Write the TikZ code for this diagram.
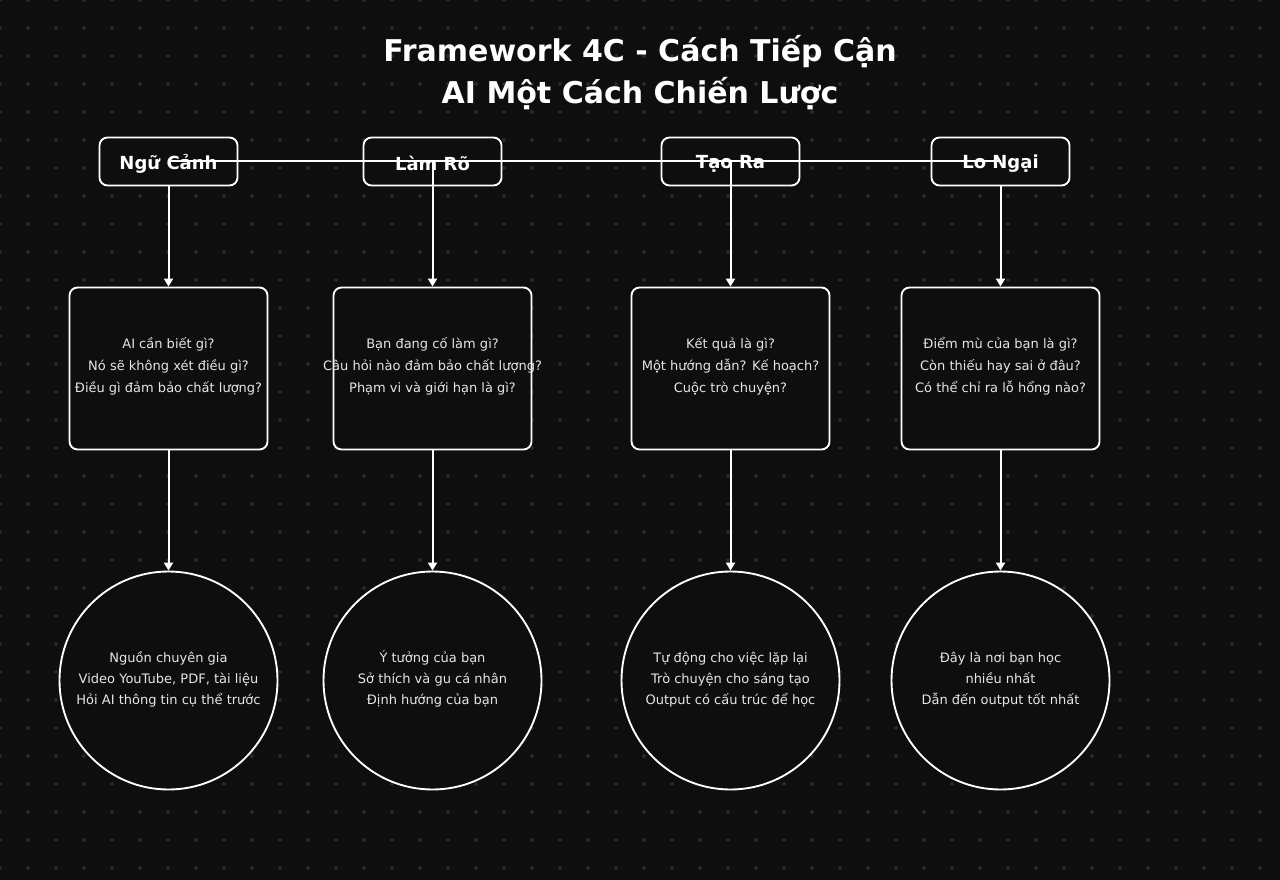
\documentclass[tikz,border=0pt]{standalone}
\usepackage{fontspec}
\setmainfont{DejaVu Sans}
\usetikzlibrary{arrows.meta}
\definecolor{bgc}{HTML}{0E0E0E}
\definecolor{gridc}{HTML}{282828}
\definecolor{txtc}{HTML}{E6E6E6}
\tikzset{
  topbox/.style={draw=white, line width=1.4pt, fill=bgc, rounded corners=6pt,
    minimum width=103.5pt, minimum height=36pt, inner sep=0pt},
  toptext/.style={text=white, inner sep=0pt, font=\fontsize{13.5}{16}\selectfont\bfseries},
  midbox/.style={draw=white, line width=1.4pt, fill=bgc, rounded corners=6pt,
    minimum width=148.5pt, minimum height=121.5pt, inner sep=0pt},
  midtext/.style={text=txtc, align=center, inner sep=0pt, font=\fontsize{9.75}{16.5}\selectfont},
  circ/.style={draw=white, line width=1.4pt, fill=bgc, circle,
    minimum size=163.5pt, inner sep=0pt},
  circtext/.style={text=txtc, align=center, inner sep=0pt, font=\fontsize{9.75}{15.75}\selectfont},
  conn/.style={draw=white, line width=1.5pt},
  arr/.style={conn, -{Triangle[length=6pt,width=6.75pt]}},
}
\begin{document}
\begin{tikzpicture}[x=0.75pt,y=-0.75pt]
\useasboundingbox (0,0) rectangle (1280,880);
\fill[bgc] (0,0) rectangle (1280,880);
\draw[gridc, line width=0.9pt]
  \foreach \i in {0,...,46} { \foreach \j in {0,...,31} {
    ({\i*28-2},{\j*28}) -- ++(4,0) ({\i*28},{\j*28-2}) -- ++(0,4) } };

\node[text=white, align=center, inner sep=0pt, font=\fontsize{22.5}{32}\selectfont\bfseries] (title) at (640,72.5)
  {Framework 4C - Cách Tiếp Cận\\AI Một Cách Chiến Lược};

\node[topbox] (t1) at (168.5,161.5) {};
\node[topbox] (t2) at (432.5,161.5) {};
\node[topbox] (t3) at (730.5,161.5) {};
\node[topbox] (t4) at (1000.5,161.5) {};
\node[toptext] (t1l) at ([yshift=-1.5pt]t1.center) {Ngữ Cảnh};
\node[toptext] (t2l) at ([yshift=-1.5pt]t2.center) {Làm Rõ};
\node[toptext] (t3l) at ([yshift=-1.5pt]t3.center) {Tạo Ra};
\node[toptext] (t4l) at ([yshift=-1.5pt]t4.center) {Lo Ngại};

\node[midbox] (m1) at (168.5,368.5) {};
\node[midbox] (m2) at (432.5,368.5) {};
\node[midbox] (m3) at (730.5,368.5) {};
\node[midbox] (m4) at (1000.5,368.5) {};
\node[midtext] (m1l) at ([yshift=1.5pt]m1.center) {AI cần biết gì?\\Nó sẽ không xét điều gì?\\Điều gì đảm bảo chất lượng?};
\node[midtext] (m2l) at ([yshift=1.5pt]m2.center) {Bạn đang cố làm gì?\\Câu hỏi nào đảm bảo chất lượng?\\Phạm vi và giới hạn là gì?};
\node[midtext] (m3l) at ([yshift=1.5pt]m3.center) {Kết quả là gì?\\Một hướng dẫn? Kế hoạch?\\Cuộc trò chuyện?};
\node[midtext] (m4l) at ([yshift=1.5pt]m4.center) {Điểm mù của bạn là gì?\\Còn thiếu hay sai ở đâu?\\Có thể chỉ ra lỗ hổng nào?};

\node[circ] (c1) at (168.5,680.5) {};
\node[circ] (c2) at (432.5,680.5) {};
\node[circ] (c3) at (730.5,680.5) {};
\node[circ] (c4) at (1000.5,680.5) {};
\node[circtext] (c1l) at ([yshift=1pt]c1.center) {Nguồn chuyên gia\\Video YouTube, PDF, tài liệu\\Hỏi AI thông tin cụ thể trước};
\node[circtext] (c2l) at ([yshift=1pt]c2.center) {Ý tưởng của bạn\\Sở thích và gu cá nhân\\Định hướng của bạn};
\node[circtext] (c3l) at ([yshift=1pt]c3.center) {Tự động cho việc lặp lại\\Trò chuyện cho sáng tạo\\Output có cấu trúc để học};
\node[circtext] (c4l) at ([yshift=1pt]c4.center) {Đây là nơi bạn học\\nhiều nhất\\Dẫn đến output tốt nhất};

\draw[conn] (t1.center) -- (t4.center);
\draw[arr] (t1.south) -- (m1.north);
\draw[arr] (t2.center) -- (m2.north);
\draw[arr] (t3.center) -- (m3.north);
\draw[arr] (t4.south) -- (m4.north);
\draw[arr] (m1.south) -- (c1.north);
\draw[arr] (m2.south) -- (c2.north);
\draw[arr] (m3.south) -- (c3.north);
\draw[arr] (m4.south) -- (c4.north);
\end{tikzpicture}
\end{document}
